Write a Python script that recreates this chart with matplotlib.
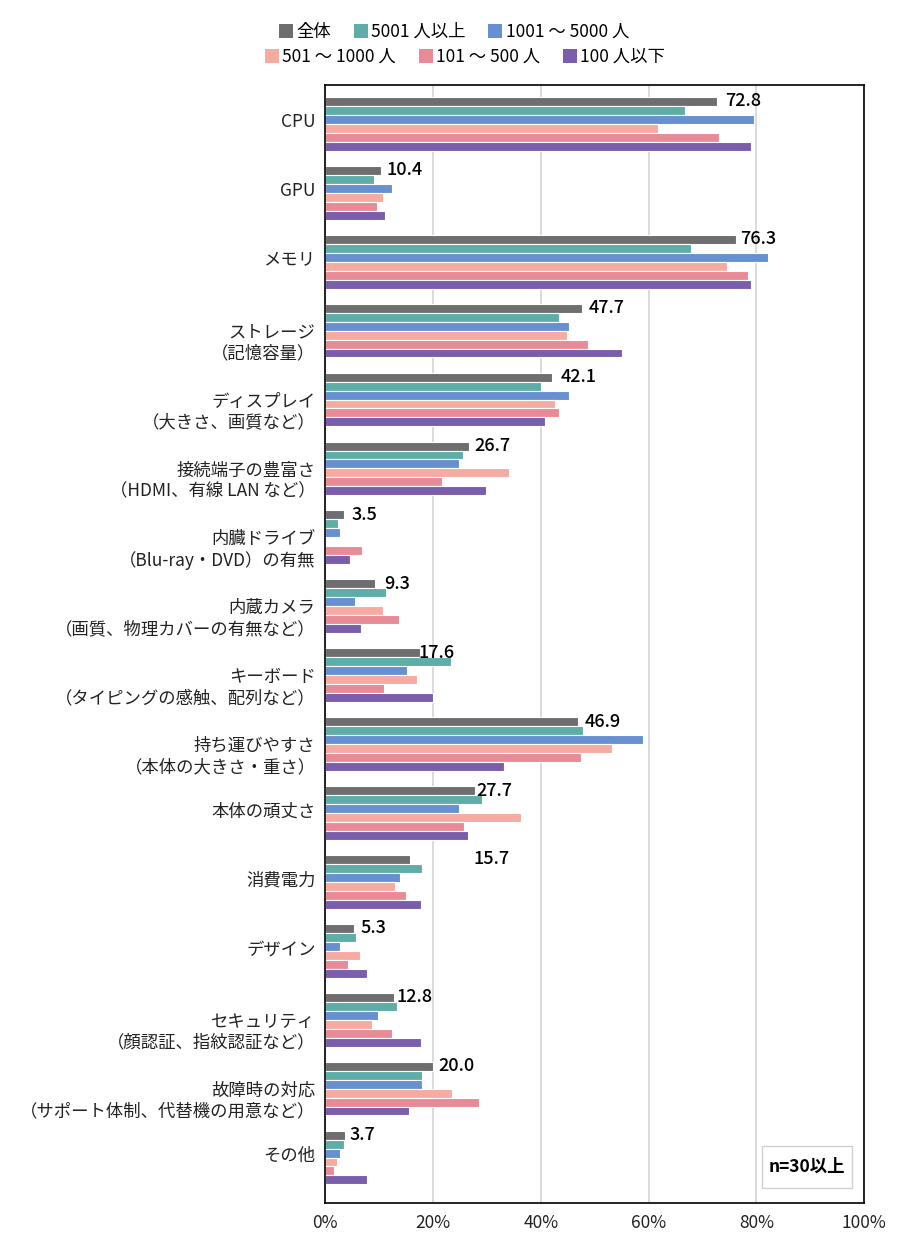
import matplotlib
matplotlib.use("Agg")
import matplotlib.pyplot as plt
import matplotlib.transforms as mtransforms
from matplotlib.patches import Patch, Rectangle
import numpy as np

plt.rcParams['font.family'] = ['Noto Sans CJK JP', 'DejaVu Sans']

categories = [
    "CPU", "GPU", "メモリ", "ストレージ\n（記憶容量）",
    "ディスプレイ\n（大きさ、画質など）",
    "接続端子の豊富さ\n（HDMI、有線 LAN など）",
    "内臓ドライブ\n（Blu-ray・DVD）の有無",
    "内蔵カメラ\n（画質、物理カバーの有無など）",
    "キーボード\n（タイピングの感触、配列など）",
    "持ち運びやすさ\n（本体の大きさ・重さ）",
    "本体の頑丈さ", "消費電力", "デザイン",
    "セキュリティ\n（顔認証、指紋認証など）",
    "故障時の対応\n（サポート体制、代替機の用意など）",
    "その他",
]

series_names = ["全体", "5001 人以上", "1001 ～ 5000 人",
                "501 ～ 1000 人", "101 ～ 500 人", "100 人以下"]

overall = [72.8, 10.4, 76.3, 47.7, 42.1, 26.7, 3.5, 9.3, 17.6, 46.9, 27.7, 15.7, 5.3, 12.8, 20.0, 3.7]
s5001 = [66.8, 9.0, 67.8, 43.4, 40.1, 25.6, 2.3, 11.2, 23.4, 47.8, 29.0, 17.9, 5.7, 13.4, 17.9, 3.5]
s1001 = [79.6, 12.4, 82.2, 45.2, 45.2, 24.8, 2.8, 5.5, 15.2, 59.0, 24.8, 13.8, 2.8, 9.7, 17.9, 2.8]
s501 = [61.7, 10.7, 74.6, 44.9, 42.6, 34.1, 0.0, 10.7, 17.1, 53.2, 36.3, 12.9, 6.5, 8.6, 23.5, 2.2]
s101 = [73.0, 9.6, 78.4, 48.7, 43.3, 21.7, 6.9, 13.6, 10.9, 47.4, 25.8, 15.0, 4.2, 12.3, 28.5, 1.6]
s100 = [79.1, 11.1, 79.1, 55.0, 40.8, 29.8, 4.6, 6.7, 19.9, 33.1, 26.5, 17.7, 7.8, 17.7, 15.5, 7.8]

xticks = [0, 20, 40, 60, 80, 100]
xtick_labels = ["0%", "20%", "40%", "60%", "80%", "100%"]

colors = ["#6e6e70", "#5fada8", "#6690d0", "#f5aba2", "#e98a97", "#7a5eab"]
# horizontal offsets (px) of the value labels from the bar ends
label_offsets_px = [8, 5, 4, 6, 9, 5, 7, 9, -2, 7, 2, 64, 7, 2, 5, 4]

all_series = [overall, s5001, s1001, s501, s101, s100]

fig = plt.figure(figsize=(9, 12.41), dpi=100)
ax = fig.add_axes([325.3 / 900, 38 / 1241, (864 - 325.3) / 900, (1203 - 85.3) / 1241])

n = len(categories)
y = np.arange(n)
group = 0.78
bh = group / 6
for i, (vals, c) in enumerate(zip(all_series, colors)):
    pos = y - group / 2 + bh * (i + 0.5)
    ax.barh(pos, vals, height=bh, color=c, edgecolor="white", linewidth=0.8, zorder=3)

# value labels for overall
for j, v in enumerate(overall):
    pos = j - group / 2 + bh * 0.5
    ax.annotate(f"{v:.1f}", xy=(v, pos), xytext=(label_offsets_px[j] * 0.72, 0),
                textcoords="offset points", va="center", ha="left",
                fontsize=13, fontweight="medium", color="black", zorder=5)

ax.set_xlim(0, 100)
ax.set_ylim(15.66, -0.56)
ax.set_xticks(xticks)
ax.set_xticklabels(xtick_labels, fontsize=12.5, color="#222222")
ax.set_yticks(y)
ax.set_yticklabels(categories, fontsize=12.5, color="#222222")
ax.tick_params(axis="both", length=0)
ax.tick_params(axis="x", pad=8)
ax.tick_params(axis="y", pad=7)
ax.grid(axis="x", color="#d4d4d4", linewidth=1.2, zorder=0)
ax.set_axisbelow(True)
for s in ax.spines.values():
    s.set_color("black")
    s.set_linewidth(1.2)
    s.set_zorder(10)

# shift multi-line labels slightly down, single-line slightly up
for lab in ax.get_yticklabels():
    dy = -6.5 if "\n" in lab.get_text() else 2.5
    lab.set_transform(lab.get_transform() +
                      mtransforms.ScaledTranslation(0, dy / 72, fig.dpi_scale_trans))

# n box
ax.add_patch(Rectangle(((762 - 325.3) / 538.7, (1203 - 1188) / 1117.7),
                       90 / 538.7, 42 / 1117.7, transform=ax.transAxes,
                       facecolor="white", edgecolor="#d0d0d0", linewidth=1, zorder=6))
ax.text((807 - 325.3) / 538.7, (1203 - 1167) / 1117.7, "n=30以上", transform=ax.transAxes,
        ha="center", va="center", fontsize=12.5, fontweight="bold", zorder=7)

handles = [Patch(facecolor=c, edgecolor="none") for c in colors]
leg_kw = dict(loc="center", frameon=False, fontsize=12.5, handlelength=0.8,
              handleheight=0.8, handletextpad=0.2, columnspacing=1.3, ncol=3,
              borderaxespad=0, borderpad=0)
fig.legend(handles[:3], series_names[:3], bbox_to_anchor=(454 / 900, 1 - 32 / 1241), **leg_kw)
fig.legend(handles[3:], series_names[3:], bbox_to_anchor=(465 / 900, 1 - 57 / 1241), **leg_kw)

fig.savefig("out.png", dpi=100, facecolor="white")
